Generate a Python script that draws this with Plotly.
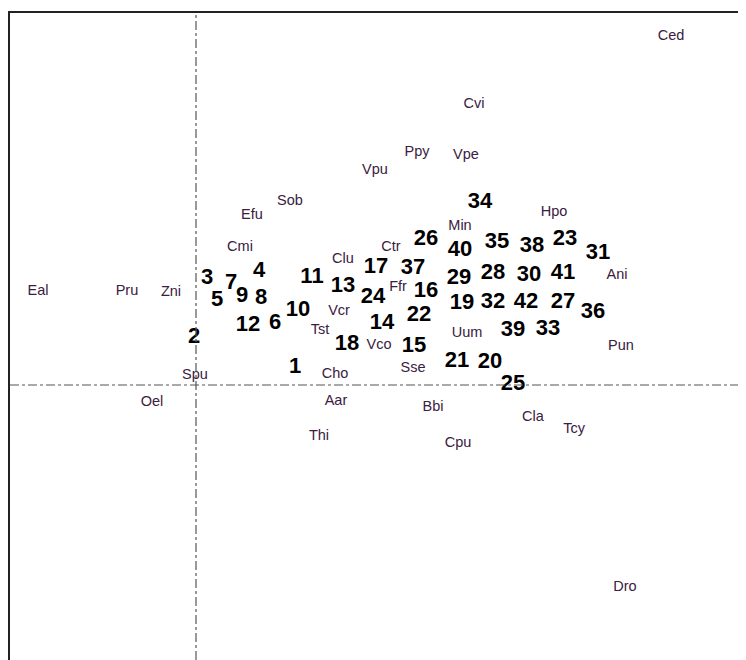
import plotly.graph_objects as go

# Species scores (axis 1, axis 2)
species = ["Ced", "Cvi", "Ppy", "Vpe", "Vpu", "Sob", "Efu", "Hpo", "Min", "Cmi",
           "Clu", "Ctr", "Ani", "Eal", "Pru", "Zni", "Ffr", "Vcr", "Tst", "Uum",
           "Vco", "Pun", "Sse", "Cho", "Spu", "Oel", "Aar", "Bbi", "Cla", "Tcy",
           "Thi", "Cpu", "Dro"]
species_x = [4.75, 2.78, 2.21, 2.70, 1.79, 0.94, 0.56, 3.58, 2.64, 0.44,
             1.47, 1.95, 4.21, -1.58, -0.69, -0.25, 2.02, 1.43, 1.24, 2.71,
             1.83, 4.25, 2.17, 1.39, -0.01, -0.44, 1.40, 2.37, 3.37, 3.78,
             1.23, 2.62, 4.29]
species_y = [3.49, 2.81, 2.33, 2.30, 2.15, 1.84, 1.70, 1.73, 1.59, 1.38,
             1.26, 1.38, 1.10, 0.94, 0.94, 0.93, 0.98, 0.74, 0.55, 0.52,
             0.40, 0.39, 0.17, 0.11, 0.10, -0.17, -0.16, -0.22, -0.32, -0.44,
             -0.51, -0.58, -2.02]

# Site scores (axis 1, axis 2)
sites = ["1", "2", "3", "4", "5", "6", "7", "8", "9", "10",
         "11", "12", "13", "14", "15", "16", "17", "18", "19", "20",
         "21", "22", "23", "24", "25", "26", "27", "28", "29", "30",
         "31", "32", "33", "34", "35", "36", "37", "38", "39", "40",
         "41", "42"]
sites_x = [0.99, -0.02, 0.11, 0.63, 0.21, 0.79, 0.35, 0.65, 0.46, 1.02,
           1.16, 0.52, 1.47, 1.86, 2.18, 2.30, 1.80, 1.51, 2.66, 2.94,
           2.61, 2.23, 3.69, 1.77, 3.17, 2.30, 3.67, 2.97, 2.63, 3.33,
           4.02, 2.97, 3.52, 2.84, 3.01, 3.97, 2.17, 3.36, 3.17, 2.64,
           3.67, 3.30]
sites_y = [0.18, 0.48, 1.07, 1.14, 0.85, 0.62, 1.02, 0.87, 0.89, 0.75,
           1.08, 0.60, 0.99, 0.62, 0.39, 0.94, 1.18, 0.41, 0.82, 0.23,
           0.24, 0.70, 1.46, 0.88, 0.01, 1.46, 0.83, 1.12, 1.07, 1.10,
           1.32, 0.83, 0.56, 1.83, 1.43, 0.73, 1.17, 1.39, 0.55, 1.35,
           1.12, 0.83]

x_range = [-1.86, 5.50]
y_range = [-2.75, 3.72]

fig = go.Figure()
fig.add_trace(go.Scatter(
    x=species_x, y=species_y, text=species, mode="text",
    textposition="middle center",
    textfont=dict(family="Arial, Liberation Sans", size=14.5, color="#3a2040"),
    hoverinfo="text", showlegend=False))
fig.add_trace(go.Scatter(
    x=sites_x, y=sites_y, text=["<b>%s</b>" % s for s in sites], mode="text",
    textposition="middle center",
    textfont=dict(family="Arial, Liberation Sans", size=22, color="#000000"),
    hoverinfo="text", showlegend=False))

# origin reference lines
fig.add_shape(type="line", xref="x", yref="paper", x0=0, x1=0, y0=0, y1=1,
              line=dict(color="#555555", width=1.2, dash="dashdot"))
fig.add_shape(type="line", xref="paper", yref="y", x0=0, x1=1, y0=0, y1=0,
              line=dict(color="#555555", width=1.2, dash="dashdot"))

fig.update_xaxes(range=x_range, showgrid=False, zeroline=False, showticklabels=False,
                 ticks="", showline=True, side="top", linecolor="#222222", linewidth=2)
fig.update_yaxes(range=y_range, showgrid=False, zeroline=False, showticklabels=False,
                 ticks="", showline=True, side="left", linecolor="#222222", linewidth=2)

fig.update_layout(width=738, height=652, margin=dict(l=2, r=0, t=5, b=0),
                  paper_bgcolor="white", plot_bgcolor="white")

fig.write_html("out.html")
